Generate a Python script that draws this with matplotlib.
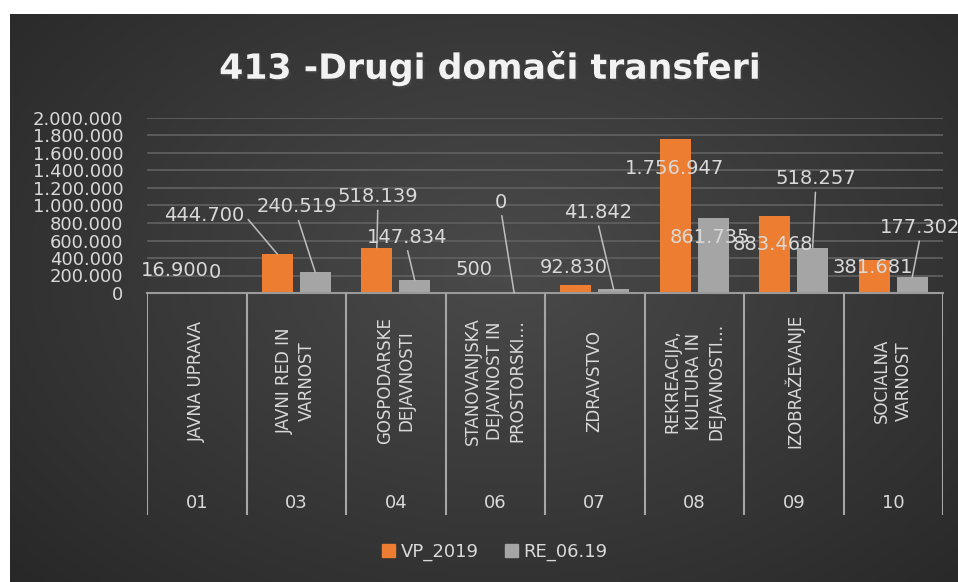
import matplotlib
matplotlib.use("Agg")
import matplotlib.pyplot as plt
import matplotlib.patheffects as pe
from matplotlib.patches import Patch
import numpy as np

# podatki
sifre = ["01", "03", "04", "06", "07", "08", "09", "10"]
podrocja = ["JAVNA UPRAVA", "JAVNI RED IN\nVARNOST", "GOSPODARSKE\nDEJAVNOSTI",
            "STANOVANJSKA\nDEJAVNOST IN\nPROSTORSKI…", "ZDRAVSTVO",
            "REKREACIJA,\nKULTURA IN\nDEJAVNOSTI…", "IZOBRAŽEVANJE", "SOCIALNA\nVARNOST"]
vp_2019 = [16900, 444700, 518139, 500, 92830, 1756947, 883468, 381681]
re_0619 = [0, 240519, 147834, 0, 41842, 861735, 518257, 177302]
y_ticks = [0, 200000, 400000, 600000, 800000, 1000000, 1200000, 1400000, 1600000, 1800000, 2000000]

# postavitev oznak (odmik v pikslih od vrha stolpca) in ali ima crto
odmik_vp = [(-3, 21), (-73, 39), (1, 51), (-2, 23), (-2, 17), (-1, -29), (-2, -29), (-2, -8)]
odmik_re = [(-1, 21), (-18, 65), (-8, 43), (-13, 91), (-16, 77), (-3, -20), (3, 69), (8, 50)]
crta_vp = [False, True, True, False, False, False, False, False]
crta_re = [False, True, True, True, True, False, True, True]

ORANZNA = "#ED7D31"
SIVA = "#A5A5A5"
TEKST = "#D9D9D9"

W, H = 958, 582
fig = plt.figure(figsize=(W / 100, H / 100), dpi=100, facecolor="white")

# ozadje z radialnim prelivom
bg = fig.add_axes([10 / W, 0, (W - 10) / W, (H - 14) / H], zorder=-5)
yy, xx = np.mgrid[0:1:300j, 0:1:500j]
d = np.sqrt(((xx - 0.52) / 0.75) ** 2 + ((yy - 0.45) / 0.85) ** 2)
d = np.clip(d, 0, 1)
bg.imshow(d, cmap=matplotlib.colors.LinearSegmentedColormap.from_list("g", ["#4a4a4a", "#262626"]),
          aspect="auto", extent=(0, 1, 0, 1), vmin=0, vmax=1)
bg.axis("off")

def fx(px):
    return px / W

def fy(py):
    return 1 - py / H

# glavni graf
ax = fig.add_axes([fx(147), fy(293), fx(943) - fx(147), fy(118) - fy(293)])
ax.set_facecolor("none")
x = np.arange(len(sifre))
sirina = 0.31
b1 = ax.bar(x - 0.19, vp_2019, sirina, color=ORANZNA, zorder=3, label="VP_2019")
b2 = ax.bar(x + 0.19, re_0619, sirina, color=SIVA, zorder=3, label="RE_06.19")
ax.set_xlim(-0.5, len(sifre) - 0.5)
ax.set_ylim(0, 2000000)
ax.set_yticks(y_ticks)
ax.set_yticklabels([f"{v:,}".replace(",", ".") for v in y_ticks], color=TEKST, fontsize=13)
ax.tick_params(axis="y", length=0, pad=17)
ax.tick_params(axis="x", length=0, labelbottom=False)
ax.grid(axis="y", color="#5c5c5c", linewidth=1.4, zorder=0)
for s in ["top", "right", "left"]:
    ax.spines[s].set_visible(False)
ax.spines["bottom"].set_color("#9a9a9a")
ax.spines["bottom"].set_linewidth(1.5)
ax.spines["bottom"].set_zorder(4)

def oznaka(v, xb, odmik, crta):
    besedilo = f"{v:,}".replace(",", ".")
    ap = None
    if crta:
        rel = (1, 0.5) if odmik[0] < -50 else (0.5, 0)
        ap = dict(arrowstyle="-", color="#BFBFBF", lw=1.1, shrinkA=1, shrinkB=0, relpos=rel)
    ax.annotate(besedilo, xy=(xb, v), xytext=odmik, textcoords="offset pixels",
                ha="center", va="center", fontsize=14, color=TEKST,
                arrowprops=ap, zorder=5, annotation_clip=False)

for i in range(len(sifre)):
    oznaka(vp_2019[i], x[i] - 0.19, odmik_vp[i], crta_vp[i])
    oznaka(re_0619[i], x[i] + 0.19, odmik_re[i], crta_re[i])

# os s kategorijami
cax = fig.add_axes([fx(147), fy(515), fx(943) - fx(147), fy(293) - fy(515)])
cax.set_facecolor("none")
cax.set_xlim(-0.5, len(sifre) - 0.5)
cax.set_ylim(515, 293)
cax.axis("off")
for k in range(len(sifre) + 1):
    cax.plot([k - 0.5, k - 0.5], [293, 515], color="#a6a6a6", lw=1.5, solid_capstyle="butt")
for i in range(len(sifre)):
    cax.text(x[i], 381, podrocja[i], rotation=90, ha="center", va="center",
             multialignment="center", fontsize=12, color=TEKST, linespacing=1.3)
    cax.text(x[i], 503, sifre[i], ha="center", va="center", fontsize=13, color=TEKST)

# naslov
fig.text(fx(490), fy(68), "413 -Drugi domači transferi", ha="center", va="center",
         fontsize=25, fontweight="bold", color="#F2F2F2",
         path_effects=[pe.withSimplePatchShadow(offset=(1.5, -1.5), alpha=0.5)])

# legenda
fig.legend(handles=[Patch(color=ORANZNA, label="VP_2019"), Patch(color=SIVA, label="RE_06.19")],
           loc="center", bbox_to_anchor=(fx(495), fy(552)), ncol=2, frameon=False,
           fontsize=13, labelcolor=TEKST, handlelength=0.7, handleheight=0.7,
           handletextpad=0.3, columnspacing=1.5)

fig.savefig("out.png", dpi=100, facecolor="white")
